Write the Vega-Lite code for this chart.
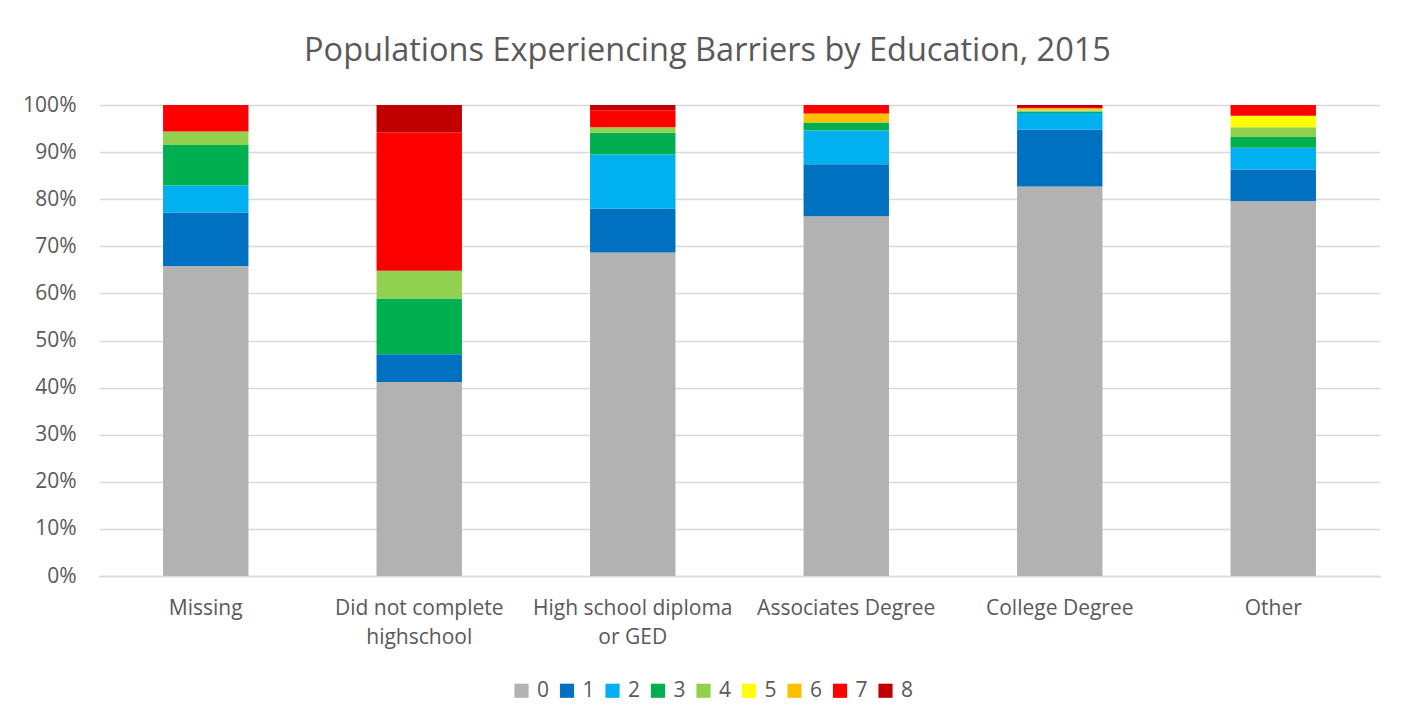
{
  "$schema": "https://vega.github.io/schema/vega-lite/v6.json",
  "autosize": "none",
  "width": 1281,
  "height": 471,
  "padding": {"left": 99, "top": 105, "right": 32, "bottom": 149},
  "background": "white",
  "title": {
    "text": "Populations Experiencing Barriers by Education, 2015",
    "font": "Open Sans",
    "fontSize": 32.5,
    "fontWeight": "normal",
    "color": "#595959",
    "anchor": "middle",
    "dx": -32,
    "offset": 27
  },
  "data": {
    "values": [
      {"edu": "Missing", "b": "0", "pct": 65.8},
      {"edu": "Missing", "b": "1", "pct": 11.4},
      {"edu": "Missing", "b": "2", "pct": 5.7},
      {"edu": "Missing", "b": "3", "pct": 8.6},
      {"edu": "Missing", "b": "4", "pct": 2.9},
      {"edu": "Missing", "b": "5", "pct": 0},
      {"edu": "Missing", "b": "6", "pct": 0},
      {"edu": "Missing", "b": "7", "pct": 5.6},
      {"edu": "Missing", "b": "8", "pct": 0},
      {"edu": "Did not complete highschool", "b": "0", "pct": 41.2},
      {"edu": "Did not complete highschool", "b": "1", "pct": 5.9},
      {"edu": "Did not complete highschool", "b": "2", "pct": 0},
      {"edu": "Did not complete highschool", "b": "3", "pct": 11.8},
      {"edu": "Did not complete highschool", "b": "4", "pct": 5.9},
      {"edu": "Did not complete highschool", "b": "5", "pct": 0},
      {"edu": "Did not complete highschool", "b": "6", "pct": 0},
      {"edu": "Did not complete highschool", "b": "7", "pct": 29.4},
      {"edu": "Did not complete highschool", "b": "8", "pct": 5.8},
      {"edu": "High school diploma or GED", "b": "0", "pct": 68.7},
      {"edu": "High school diploma or GED", "b": "1", "pct": 9.3},
      {"edu": "High school diploma or GED", "b": "2", "pct": 11.5},
      {"edu": "High school diploma or GED", "b": "3", "pct": 4.6},
      {"edu": "High school diploma or GED", "b": "4", "pct": 1.2},
      {"edu": "High school diploma or GED", "b": "5", "pct": 0},
      {"edu": "High school diploma or GED", "b": "6", "pct": 0},
      {"edu": "High school diploma or GED", "b": "7", "pct": 3.6},
      {"edu": "High school diploma or GED", "b": "8", "pct": 1.1},
      {"edu": "Associates Degree", "b": "0", "pct": 76.4},
      {"edu": "Associates Degree", "b": "1", "pct": 11.0},
      {"edu": "Associates Degree", "b": "2", "pct": 7.2},
      {"edu": "Associates Degree", "b": "3", "pct": 1.7},
      {"edu": "Associates Degree", "b": "4", "pct": 0},
      {"edu": "Associates Degree", "b": "5", "pct": 0},
      {"edu": "Associates Degree", "b": "6", "pct": 1.9},
      {"edu": "Associates Degree", "b": "7", "pct": 1.8},
      {"edu": "Associates Degree", "b": "8", "pct": 0},
      {"edu": "College Degree", "b": "0", "pct": 82.7},
      {"edu": "College Degree", "b": "1", "pct": 12.1},
      {"edu": "College Degree", "b": "2", "pct": 3.5},
      {"edu": "College Degree", "b": "3", "pct": 0.3},
      {"edu": "College Degree", "b": "4", "pct": 0.3},
      {"edu": "College Degree", "b": "5", "pct": 0.1},
      {"edu": "College Degree", "b": "6", "pct": 0.3},
      {"edu": "College Degree", "b": "7", "pct": 0.3},
      {"edu": "College Degree", "b": "8", "pct": 0.4},
      {"edu": "Other", "b": "0", "pct": 79.6},
      {"edu": "Other", "b": "1", "pct": 6.7},
      {"edu": "Other", "b": "2", "pct": 4.6},
      {"edu": "Other", "b": "3", "pct": 2.3},
      {"edu": "Other", "b": "4", "pct": 2.1},
      {"edu": "Other", "b": "5", "pct": 2.4},
      {"edu": "Other", "b": "6", "pct": 0},
      {"edu": "Other", "b": "7", "pct": 2.3},
      {"edu": "Other", "b": "8", "pct": 0}
    ]
  },
  "mark": {"type": "bar"},
  "encoding": {
    "x": {
      "field": "edu",
      "type": "nominal",
      "sort": ["Missing", "Did not complete highschool", "High school diploma or GED", "Associates Degree", "College Degree", "Other"],
      "scale": {"paddingInner": 0.6, "paddingOuter": 0.3},
      "axis": {
        "title": null,
        "labelAngle": 0,
        "labelFont": "Open Sans",
        "labelFontSize": 21,
        "labelColor": "#595959",
        "labelPadding": 21,
        "labelLineHeight": 29,
        "labelLimit": 400,
        "ticks": false,
        "domain": true,
        "domainColor": "#d9d9d9",
        "domainWidth": 1.5,
        "labelExpr": "datum.value == 'Did not complete highschool' ? ['Did not complete', 'highschool'] : datum.value == 'High school diploma or GED' ? ['High school diploma', 'or GED'] : datum.value"
      }
    },
    "y": {
      "field": "pct",
      "type": "quantitative",
      "stack": "normalize",
      "scale": {"domain": [0, 1]},
      "axis": {
        "title": null,
        "format": ".0%",
        "values": [0, 0.1, 0.2, 0.3, 0.4, 0.5, 0.6, 0.7, 0.8, 0.9, 1],
        "labelOverlap": false,
        "labelFont": "Open Sans",
        "labelFontSize": 21,
        "labelColor": "#595959",
        "labelPadding": 23,
        "ticks": false,
        "domain": false,
        "gridColor": "#d9d9d9",
        "gridWidth": 1.5
      }
    },
    "color": {
      "field": "b",
      "type": "nominal",
      "scale": {
        "domain": ["0", "1", "2", "3", "4", "5", "6", "7", "8"],
        "range": ["#B2B2B2", "#0070C0", "#00B0F0", "#00B050", "#92D050", "#FFFF00", "#FFC000", "#FF0000", "#C00000"]
      },
      "legend": {
        "title": null,
        "orient": "none",
        "legendX": 412,
        "legendY": 575,
        "direction": "horizontal",
        "symbolType": "square",
        "symbolSize": 200,
        "symbolStrokeWidth": 0,
        "symbolOpacity": 1,
        "labelFont": "Open Sans",
        "labelFontSize": 21,
        "labelColor": "#595959",
        "labelOffset": 5,
        "columnPadding": 6.5
      }
    },
    "order": {"field": "b", "type": "ordinal", "sort": "ascending"}
  },
  "config": {
    "view": {"stroke": null}
  }
}
